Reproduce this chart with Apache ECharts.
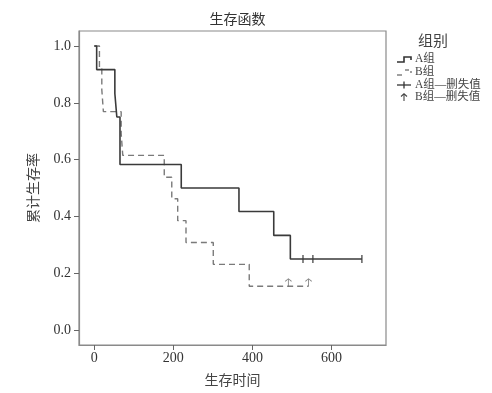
<!DOCTYPE html>
<html>
<head>
<meta charset="utf-8">
<script src="https://cdn.jsdelivr.net/npm/echarts@6/dist/echarts.min.js"></script>
<style>html,body{margin:0;padding:0;background:#fff}#c{width:492px;height:393px}</style>
</head>
<body>
<div id="c"></div>
<script>
// Group A (n=12) Kaplan-Meier steps
var timesA = [0, 6, 52, 57, 65, 220, 366, 454, 496, 677];
var survA  = [1.0, 0.917, 0.833, 0.75, 0.583, 0.5, 0.417, 0.333, 0.25, 0.25];
var censorTimesA = [528, 553, 677];
var censorSurvA  = [0.25, 0.25, 0.25];
// Group B (n=13)
var timesB = [0, 13, 19, 23, 68, 72, 177, 196, 211, 232, 301, 392, 542];
var survB  = [1.0, 0.923, 0.846, 0.769, 0.692, 0.615, 0.538, 0.462, 0.385, 0.308, 0.231, 0.154, 0.154];
var censorTimesB = [491, 542];
var censorSurvB  = [0.154, 0.154];
// Axis ticks
var xTicks = [0, 200, 400, 600];
var yTicks = [0.0, 0.2, 0.4, 0.6, 0.8, 1.0];

var serif = '"Liberation Serif", "Times New Roman", "Noto Sans CJK SC", serif';
var cjk = '"Noto Sans CJK SC", sans-serif';

function zip(a, b) { return a.map(function (v, i) { return [v, b[i]]; }); }

var chart = echarts.init(document.getElementById('c'), null, { renderer: 'canvas' });
var arrowPath = 'path://M4,0 L0,3.5 L0.8,4.3 L3.5,1.6 L3.5,10 L4.5,10 L4.5,1.6 L7.2,4.3 L8,3.5 Z';

chart.setOption({
  animation: false,
  backgroundColor: '#fff',
  title: {
    text: '生存函数', left: 232.5, top: 7, textAlign: 'center',
    textStyle: { fontFamily: cjk, fontSize: 14, fontWeight: 'normal', color: '#333' }
  },
  grid: { left: 79, right: 106, top: 31, bottom: 48, show: true, borderColor: '#8a8a8a', borderWidth: 1.2, containLabel: false },
  xAxis: {
    type: 'value', min: -38.7, max: 738,
    name: '生存时间', nameLocation: 'middle', nameGap: 28,
    nameTextStyle: { fontFamily: cjk, fontSize: 14, color: '#444' },
    axisLine: { show: true, onZero: false, lineStyle: { color: '#8a8a8a', width: 1.2 } },
    axisTick: { show: true, length: 5, customValues: xTicks, lineStyle: { color: '#666' } },
    axisLabel: { customValues: xTicks, margin: 6, fontFamily: serif, fontSize: 14, color: '#333' },
    splitLine: { show: false }
  },
  yAxis: {
    type: 'value', min: -0.053, max: 1.053,
    name: '累计生存率', nameLocation: 'middle', nameGap: 39, nameRotate: 90,
    nameTextStyle: { fontFamily: cjk, fontSize: 14, color: '#444' },
    axisLine: { show: true, onZero: false, lineStyle: { color: '#8a8a8a', width: 1.2 } },
    axisTick: { show: true, length: 5, customValues: yTicks, lineStyle: { color: '#666' } },
    axisLabel: { customValues: yTicks, margin: 8, fontFamily: serif, fontSize: 14, color: '#333',
      formatter: function (v) { return v.toFixed(1); } },
    splitLine: { show: false }
  },
  series: [
    { name: 'A组', type: 'line', step: 'end', data: zip(timesA, survA), showSymbol: false,
      lineStyle: { color: '#3a3a3a', width: 1.6 }, z: 3 },
    { name: 'B组', type: 'line', step: 'end', data: zip(timesB, survB), showSymbol: false,
      lineStyle: { color: '#7a7a7a', width: 1.4, type: [6, 4] }, z: 2 },
    { name: 'A组—删失值', type: 'scatter', data: zip(censorTimesA, censorSurvA),
      symbol: 'rect', symbolSize: [1.5, 8], itemStyle: { color: '#3a3a3a' }, z: 4 },
    { name: 'B组—删失值', type: 'scatter', data: zip(censorTimesB, censorSurvB),
      symbol: arrowPath, symbolSize: [7, 8], symbolOffset: [0, -4], itemStyle: { color: '#666' }, z: 4 }
  ],
  graphic: [
    { type: 'text', left: 418, top: 33, style: { text: '组别', font: '15px ' + cjk, fill: '#444' } },
    { type: 'polyline', shape: { points: [[397, 62], [404, 62], [404, 57], [411, 57], [411, 60]] },
      style: { stroke: '#333', lineWidth: 1.6, fill: null } },
    { type: 'text', left: 415, top: 53, style: { text: 'A组', font: '11.5px ' + serif, fill: '#444' } },
    { type: 'polyline', shape: { points: [[397, 75], [402, 75]] }, style: { stroke: '#777', lineWidth: 1.4, fill: null } },
    { type: 'polyline', shape: { points: [[405, 70], [409, 70]] }, style: { stroke: '#777', lineWidth: 1.4, fill: null } },
    { type: 'polyline', shape: { points: [[411, 71], [411, 73]] }, style: { stroke: '#777', lineWidth: 1.4, fill: null } },
    { type: 'text', left: 415, top: 66, style: { text: 'B组', font: '11.5px ' + serif, fill: '#444' } },
    { type: 'polyline', shape: { points: [[397, 85], [411, 85]] }, style: { stroke: '#333', lineWidth: 1.3, fill: null } },
    { type: 'polyline', shape: { points: [[404, 81.5], [404, 88.5]] }, style: { stroke: '#333', lineWidth: 1.3, fill: null } },
    { type: 'text', left: 415, top: 79, style: { text: 'A组—删失值', font: '11.5px ' + serif, fill: '#444' } },
    { type: 'polyline', shape: { points: [[404, 94], [404, 101]] }, style: { stroke: '#444', lineWidth: 1.1, fill: null } },
    { type: 'polyline', shape: { points: [[401, 96.5], [404, 93.8], [407, 96.5]] }, style: { stroke: '#444', lineWidth: 1.1, fill: null } },
    { type: 'text', left: 415, top: 91, style: { text: 'B组—删失值', font: '11.5px ' + serif, fill: '#444' } }
  ]
});
</script>
</body>
</html>
